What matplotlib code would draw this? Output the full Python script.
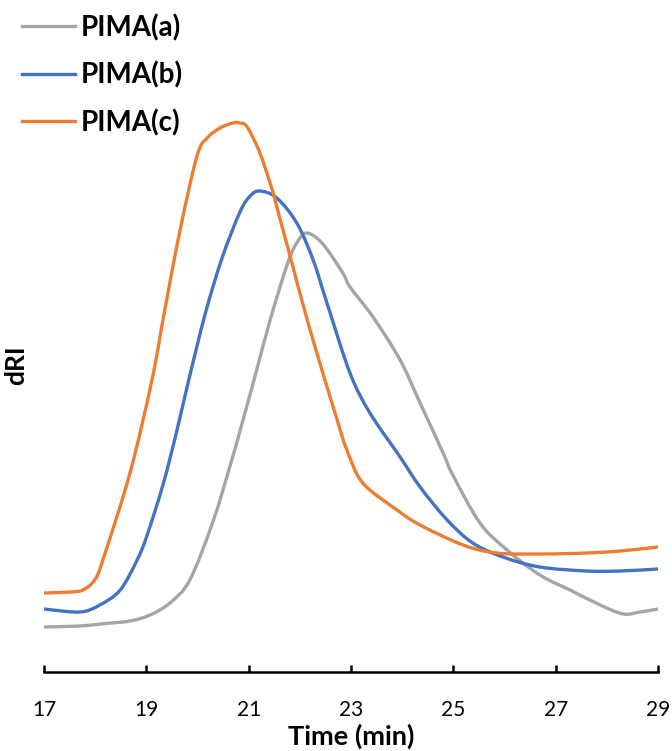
import matplotlib
matplotlib.use("Agg")
import matplotlib.pyplot as plt
from matplotlib.path import Path
from matplotlib.patches import PathPatch
from matplotlib.lines import Line2D

# GPC traces (time in min, dRI in arbitrary units)
t_a = [17.0, 17.7, 18.1, 18.68, 19.07, 19.46, 19.85, 20.3, 20.63, 20.89, 21.12,
       21.42, 21.75, 21.94, 22.14, 22.45, 22.84, 22.98, 23.43, 23.96, 24.35, 24.8,
       24.99, 25.52, 26.05, 26.69, 27.28, 27.87, 28.32, 28.65, 29.0]
dri_a = [0.45, 0.46, 0.48, 0.51, 0.57, 0.69, 0.92, 1.50, 2.05, 2.52, 2.95,
         3.52, 4.07, 4.29, 4.39, 4.28, 3.99, 3.85, 3.55, 3.12, 2.69, 2.19,
         1.97, 1.49, 1.22, 0.97, 0.82, 0.67, 0.58, 0.60, 0.63]

t_b = [17.0, 17.7, 18.09, 18.49, 18.82, 19.01, 19.33, 19.6, 19.81, 20.15, 20.48, 20.83,
       21.03, 21.22, 21.55, 21.94, 22.26, 22.53, 22.98, 23.37, 23.96, 24.35, 24.88,
       25.38, 25.97, 26.69, 27.61, 28.26, 29.0]
dri_b = [0.63, 0.60, 0.67, 0.82, 1.12, 1.36, 1.88, 2.42, 2.88, 3.58, 4.14, 4.60,
         4.76, 4.81, 4.74, 4.49, 4.12, 3.69, 2.99, 2.59, 2.15, 1.85, 1.52,
         1.29, 1.15, 1.05, 1.01, 1.01, 1.03]

t_c = [17.0, 17.51, 17.76, 17.99, 18.15, 18.68, 19.11, 19.36, 19.66, 19.99, 20.19, 20.44,
       20.69, 20.83, 20.97, 21.22, 21.48, 21.54, 21.83, 22.2, 22.73, 22.92, 23.23, 23.9,
       24.35, 25.19, 25.85, 26.69, 27.61, 28.26, 29.0]
dri_c = [0.79, 0.80, 0.82, 0.92, 1.12, 1.99, 2.92, 3.62, 4.42, 5.16, 5.34, 5.44,
         5.49, 5.49, 5.45, 5.19, 4.79, 4.67, 4.12, 3.42, 2.52, 2.22, 1.89, 1.62,
         1.47, 1.27, 1.19, 1.18, 1.19, 1.21, 1.25]

labels = ["PIMA(a)", "PIMA(b)", "PIMA(c)"]
colors = ["#A5A5A5", "#4472C4", "#ED7D31"]
xticks = [17, 19, 21, 23, 25, 27, 29]


def smooth_path(x, y):
    # Excel-style "smoothed line": cubic Bezier segments through the points
    pts = list(zip(x, y))
    verts = [pts[0]]
    codes = [Path.MOVETO]
    n = len(pts)
    for i in range(n - 1):
        p0 = pts[max(i - 1, 0)]
        p1 = pts[i]
        p2 = pts[i + 1]
        p3 = pts[min(i + 2, n - 1)]
        c1 = (p1[0] + (p2[0] - p0[0]) / 6, p1[1] + (p2[1] - p0[1]) / 6)
        c2 = (p2[0] - (p3[0] - p1[0]) / 6, p2[1] - (p3[1] - p1[1]) / 6)
        verts += [c1, c2, p2]
        codes += [Path.CURVE4] * 3
    return Path(verts, codes)


plt.rcParams['font.family'] = ['Lato', 'DejaVu Sans']

fig = plt.figure(figsize=(6.72, 7.51), dpi=100)
ax = fig.add_axes([44 / 672, 79 / 751, 614 / 672, 640 / 751])

handles = []
for t, y, lab, col in zip([t_a, t_b, t_c], [dri_a, dri_b, dri_c], labels, colors):
    ax.add_patch(PathPatch(smooth_path(t, y), facecolor='none', edgecolor=col,
                           lw=2.4, joinstyle='round', capstyle='butt'))
    handles.append(Line2D([], [], color=col, lw=2.4, label=lab))

ax.set_xlim(17, 29)
ax.set_ylim(0, 6.4)
ax.set_xticks(xticks)
ax.set_yticks([])
for s in ['left', 'top', 'right']:
    ax.spines[s].set_visible(False)
ax.spines['bottom'].set_linewidth(1.8)
ax.tick_params(axis='x', direction='in', length=5, width=1.8, labelsize=15, pad=20)

ax.set_xlabel("Time (min)", fontsize=19.5, fontweight='bold', labelpad=3)
ax.set_ylabel("dRI", fontsize=19, fontweight='bold')
ax.yaxis.set_label_coords(-0.026, 0.48)

fig.legend(handles=handles, loc='upper left', bbox_to_anchor=(22 / 672, 1 - 14 / 751),
           frameon=False, prop={'size': 20, 'weight': 'bold'}, handlelength=1.9,
           handletextpad=0.2, labelspacing=0.73, borderpad=0, borderaxespad=0)

fig.savefig("out.png", dpi=100)
